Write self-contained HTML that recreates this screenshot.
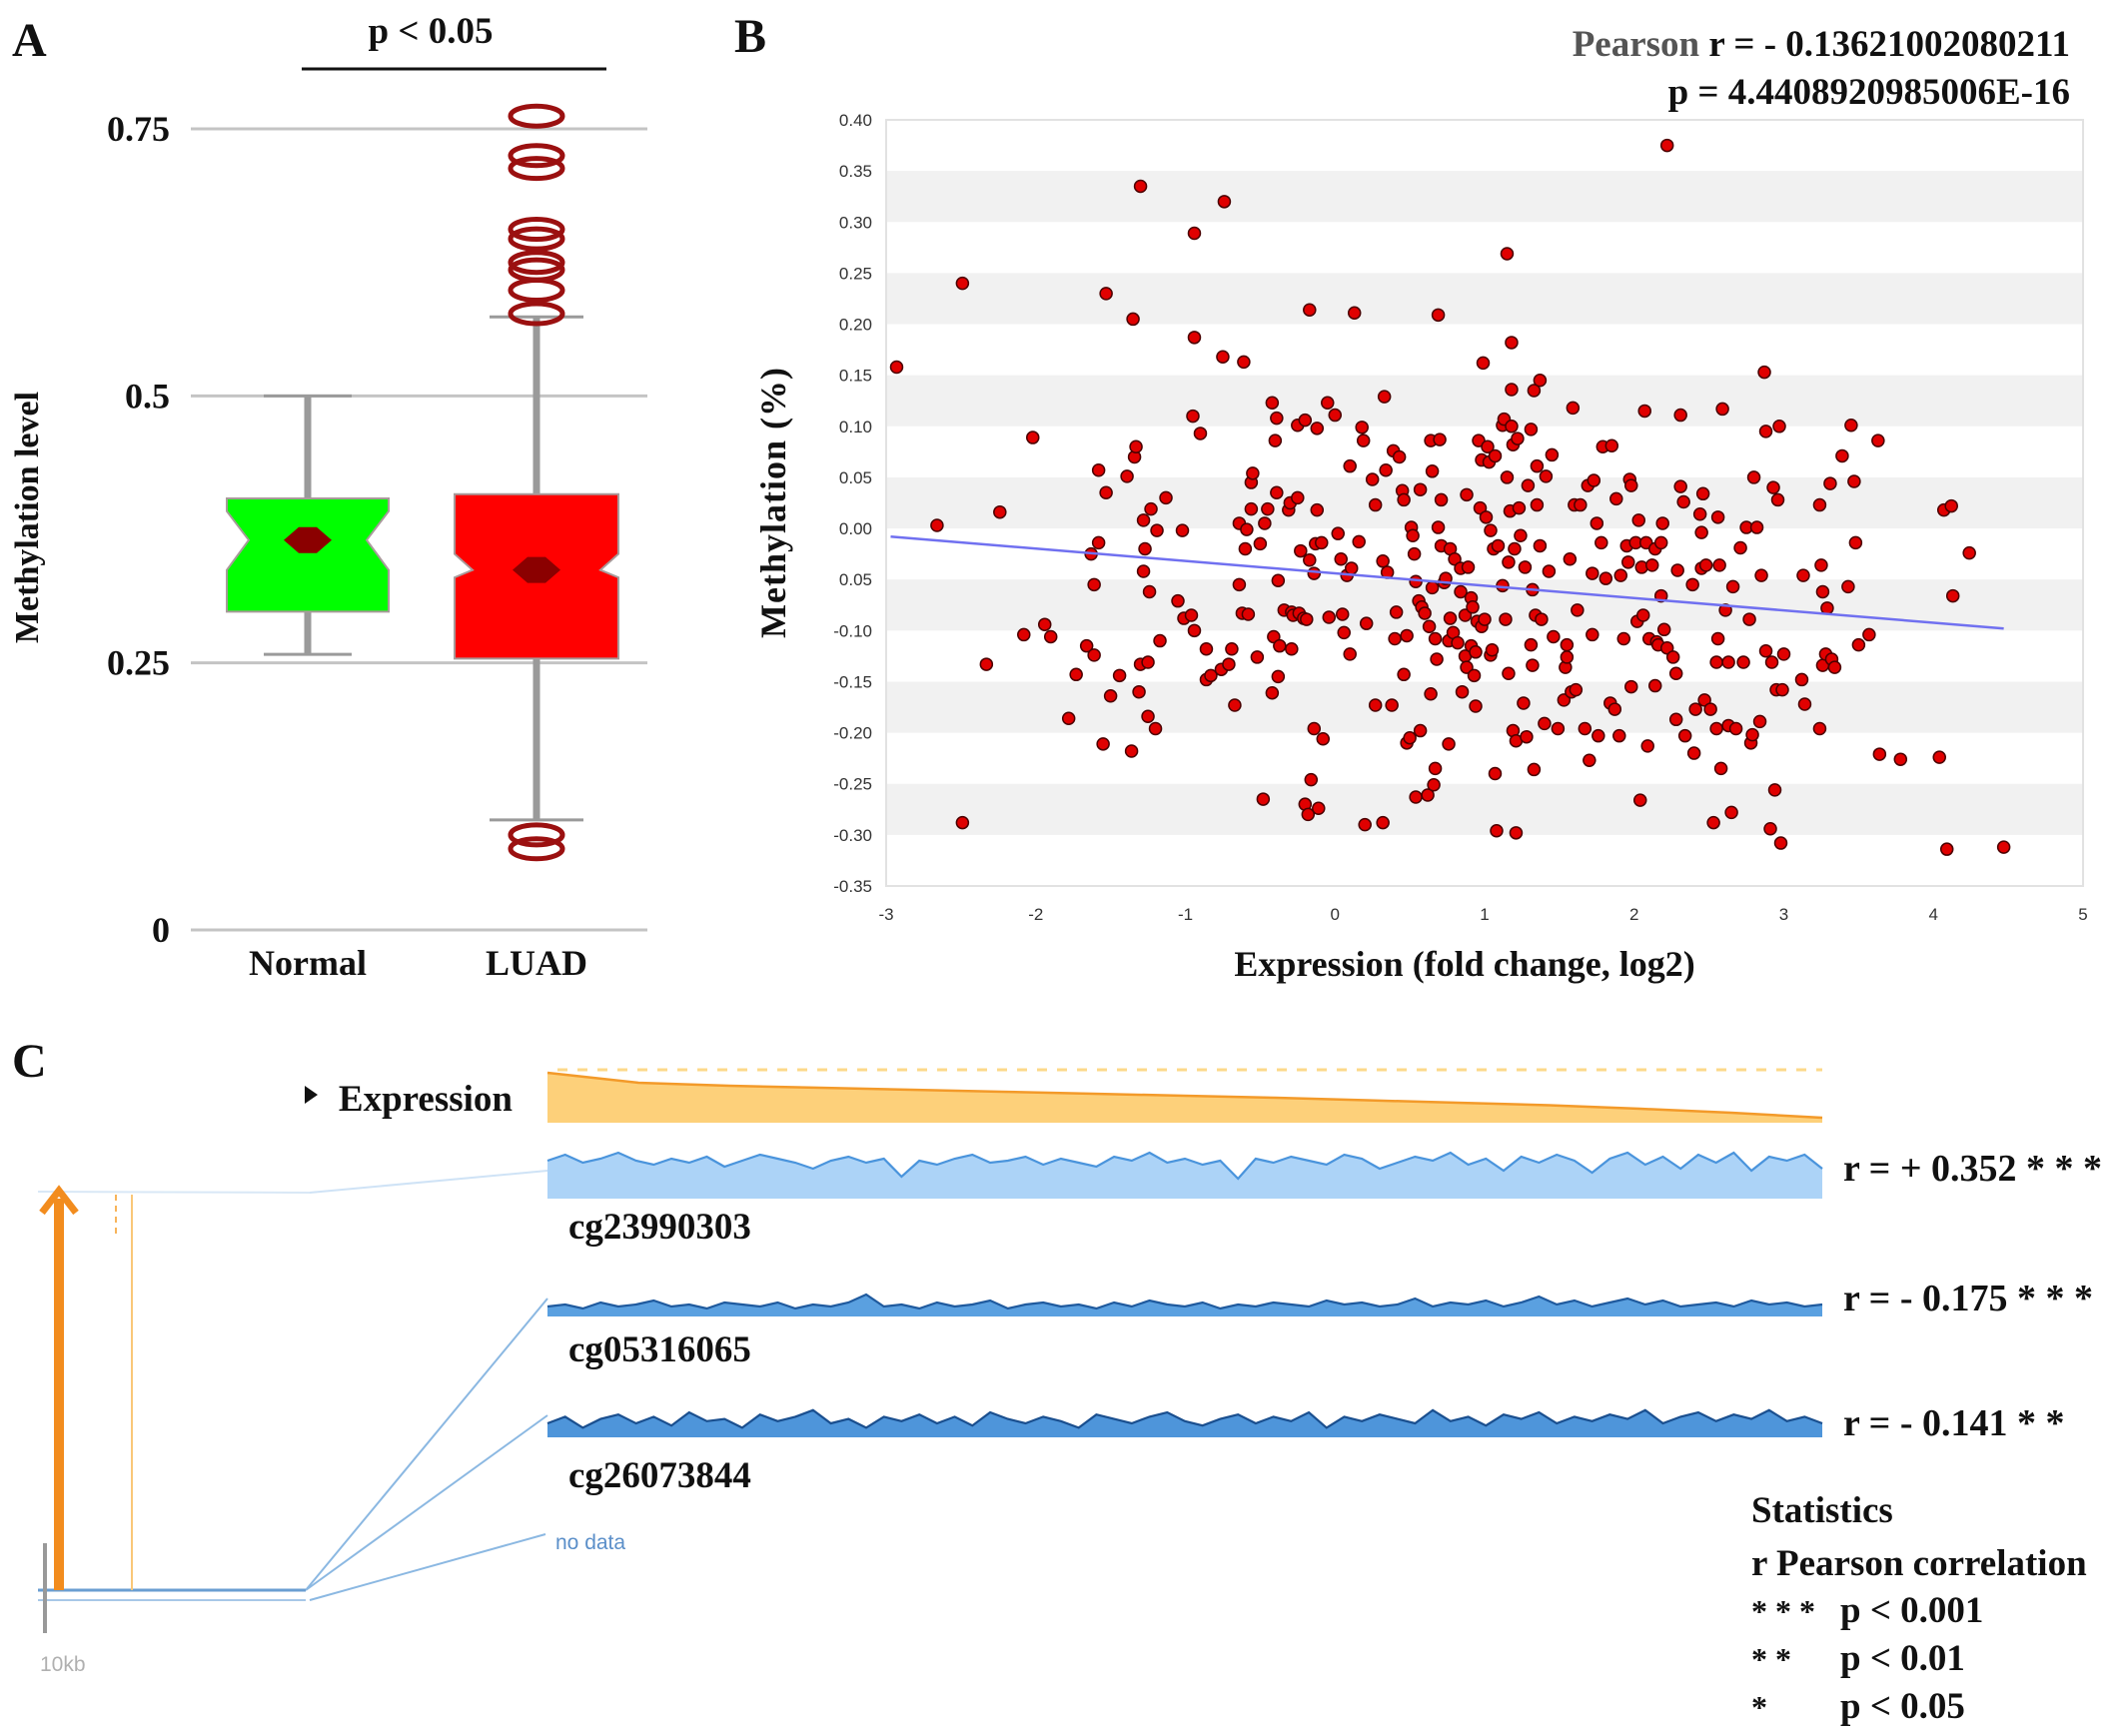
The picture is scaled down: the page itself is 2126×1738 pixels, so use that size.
<!DOCTYPE html>
<html><head><meta charset="utf-8">
<style>
html,body{margin:0;padding:0;background:#fff;}
svg{display:block;}
.serif{font-family:"Liberation Serif",serif;font-weight:bold;fill:#111;}
.sans{font-family:"Liberation Sans",sans-serif;}
</style></head>
<body>
<svg id="fig" width="2126" height="1738" viewBox="0 0 2126 1738" xmlns="http://www.w3.org/2000/svg">
  <g id="panelA"></g>
  <g id="panelB"></g>
  <g id="panelC"></g>
</svg>
<script>
// ===== Panel A data =====
const boxCategories = ["Normal", "LUAD"];
const boxQ1 = [0.298, 0.254];
const boxQ3 = [0.404, 0.408];
const boxMedian = [0.365, 0.337];
const boxNotchLo = [0.337, 0.330];
const boxNotchHi = [0.392, 0.352];
const boxWhiskerLo = [0.258, 0.103];
const boxWhiskerHi = [0.500, 0.574];
const luadOutliers = [0.762, 0.725, 0.713, 0.656, 0.647, 0.625, 0.618, 0.599, 0.577, 0.089, 0.076];
const aTicks = [0, 0.25, 0.5, 0.75];
const aTickLabels = ["0", "0.25", "0.5", "0.75"];

// ===== Panel B data =====
const expr = [-2.93,-2.66,-2.49,-2.49,-2.33,-2.24,-2.08,-2.02,-1.94,-1.90,-1.78,-1.73,-1.66,-1.63,-1.61,-1.61,-1.58,-1.58,-1.55,-1.53,-1.53,-1.50,-1.44,-1.39,-1.36,-1.35,-1.34,-1.33,-1.30,-1.31,-1.30,-1.28,-1.28,-1.27,-1.25,-1.25,-1.24,-1.23,-1.20,-1.19,-1.17,-1.13,-1.05,-1.02,-1.01,-0.96,-0.95,-0.94,-0.94,-0.94,-0.90,-0.86,-0.86,-0.83,-0.76,-0.75,-0.74,-0.71,-0.69,-0.67,-0.64,-0.64,-0.62,-0.61,-0.60,-0.59,-0.58,-0.56,-0.56,-0.55,-0.52,-0.50,-0.48,-0.47,-0.45,-0.42,-0.42,-0.41,-0.40,-0.39,-0.39,-0.38,-0.38,-0.37,-0.34,-0.31,-0.30,-0.29,-0.29,-0.28,-0.25,-0.25,-0.24,-0.23,-0.21,-0.20,-0.20,-0.19,-0.18,-0.17,-0.17,-0.16,-0.14,-0.14,-0.13,-0.12,-0.12,-0.11,-0.09,-0.08,-0.05,-0.04,0.00,0.02,0.04,0.05,0.06,0.08,0.10,0.10,0.11,0.13,0.16,0.18,0.19,0.20,0.21,0.25,0.27,0.27,0.32,0.32,0.33,0.34,0.35,0.38,0.39,0.40,0.41,0.43,0.45,0.46,0.46,0.48,0.48,0.50,0.51,0.52,0.53,0.54,0.54,0.56,0.57,0.57,0.58,0.60,0.62,0.63,0.64,0.64,0.65,0.65,0.66,0.67,0.67,0.68,0.69,0.69,0.70,0.71,0.71,0.73,0.74,0.76,0.76,0.77,0.77,0.79,0.80,0.82,0.84,0.84,0.85,0.87,0.87,0.88,0.88,0.89,0.91,0.91,0.92,0.93,0.94,0.94,0.95,0.96,0.97,0.98,0.98,0.99,1.00,1.01,1.02,1.03,1.04,1.04,1.05,1.06,1.07,1.07,1.08,1.09,1.12,1.12,1.13,1.14,1.15,1.15,1.16,1.16,1.17,1.18,1.18,1.18,1.19,1.19,1.20,1.21,1.21,1.22,1.23,1.24,1.26,1.27,1.28,1.29,1.31,1.31,1.32,1.32,1.33,1.33,1.34,1.35,1.35,1.37,1.37,1.38,1.40,1.41,1.43,1.45,1.46,1.49,1.53,1.54,1.55,1.55,1.57,1.58,1.59,1.60,1.61,1.62,1.64,1.67,1.69,1.70,1.72,1.72,1.73,1.75,1.76,1.78,1.79,1.81,1.84,1.85,1.87,1.88,1.90,1.91,1.93,1.95,1.96,1.97,1.98,1.98,2.01,2.02,2.03,2.04,2.05,2.06,2.07,2.08,2.09,2.10,2.12,2.14,2.14,2.15,2.16,2.18,2.18,2.19,2.20,2.22,2.22,2.26,2.28,2.28,2.29,2.31,2.31,2.33,2.34,2.39,2.40,2.41,2.44,2.45,2.45,2.46,2.47,2.48,2.51,2.53,2.55,2.55,2.56,2.56,2.57,2.58,2.59,2.61,2.63,2.63,2.65,2.66,2.68,2.71,2.73,2.75,2.77,2.78,2.79,2.80,2.82,2.84,2.85,2.87,2.88,2.88,2.91,2.92,2.93,2.94,2.95,2.96,2.97,2.98,2.99,3.00,3.12,3.13,3.14,3.24,3.24,3.25,3.26,3.26,3.28,3.29,3.31,3.32,3.34,3.39,3.43,3.45,3.47,3.48,3.50,3.57,3.63,3.64,3.78,4.04,4.07,4.09,4.12,4.13,4.24,4.47];
const meth = [0.158,0.003,0.240,-0.288,-0.133,0.016,-0.104,0.089,-0.094,-0.106,-0.186,-0.143,-0.115,-0.025,-0.124,-0.055,-0.014,0.057,-0.211,0.230,0.035,-0.164,-0.144,0.051,-0.218,0.205,0.070,0.080,0.335,-0.160,-0.133,-0.042,0.008,-0.020,-0.184,-0.131,-0.062,0.019,-0.196,-0.002,-0.110,0.030,-0.071,-0.002,-0.088,-0.085,0.110,0.289,0.187,-0.100,0.093,-0.118,-0.148,-0.144,-0.138,0.168,0.320,-0.133,-0.118,-0.173,-0.055,0.005,-0.083,0.163,-0.020,-0.001,-0.084,0.019,0.045,0.054,-0.126,-0.015,-0.265,0.005,0.019,-0.161,0.123,-0.106,0.086,0.035,0.108,-0.051,-0.145,-0.115,-0.080,0.018,0.025,-0.082,-0.118,-0.085,0.030,0.101,-0.083,-0.022,-0.088,0.106,-0.270,-0.089,-0.280,0.214,-0.031,-0.246,-0.196,-0.044,-0.015,0.018,0.098,-0.274,-0.014,-0.206,0.123,-0.087,0.111,-0.005,-0.030,-0.084,-0.102,-0.046,-0.123,0.061,-0.039,0.211,-0.013,0.099,0.086,-0.290,-0.093,0.048,0.023,-0.173,-0.032,-0.288,0.129,0.057,-0.043,-0.173,0.076,-0.108,-0.082,0.070,0.037,-0.143,0.028,-0.210,-0.105,-0.205,0.001,-0.007,-0.025,-0.263,-0.052,-0.071,-0.198,0.038,-0.077,-0.083,-0.261,-0.096,0.086,-0.162,-0.058,0.056,-0.251,-0.108,-0.235,-0.128,0.001,0.209,0.087,0.028,-0.017,-0.053,-0.049,-0.110,-0.211,-0.020,-0.088,-0.102,-0.030,-0.112,-0.039,-0.062,-0.160,-0.085,-0.125,0.033,-0.136,-0.038,-0.068,-0.115,-0.077,-0.144,-0.174,-0.121,-0.091,0.086,0.020,0.067,-0.096,0.162,-0.089,0.011,0.080,0.065,-0.002,-0.124,-0.119,-0.020,-0.240,0.071,-0.296,-0.017,0.101,-0.056,0.107,-0.089,0.269,0.050,-0.033,-0.142,0.017,0.182,0.136,0.100,-0.198,0.082,-0.020,-0.208,-0.298,0.088,0.020,-0.007,-0.171,-0.038,-0.204,0.042,-0.114,0.097,-0.060,-0.134,-0.236,0.135,-0.085,0.023,0.061,-0.017,0.145,-0.089,-0.191,0.051,-0.042,0.072,-0.106,-0.196,-0.168,-0.136,-0.126,-0.114,-0.030,-0.160,0.118,0.023,-0.158,-0.080,0.023,-0.196,0.042,-0.227,-0.044,-0.104,0.047,0.005,-0.203,-0.014,0.080,-0.049,-0.171,0.081,-0.177,0.029,-0.203,-0.046,-0.108,-0.017,-0.033,0.048,-0.155,0.042,-0.014,-0.091,0.008,-0.266,-0.038,-0.085,0.115,-0.014,-0.213,-0.108,-0.036,-0.020,-0.154,-0.111,-0.114,-0.066,-0.014,0.005,-0.099,0.375,-0.117,-0.126,-0.187,-0.142,-0.041,0.041,0.111,0.026,-0.203,-0.055,-0.220,-0.177,0.014,-0.004,-0.039,0.034,-0.168,-0.036,-0.177,-0.288,-0.196,-0.131,0.011,-0.108,-0.036,-0.235,0.117,-0.080,-0.193,-0.131,-0.278,-0.057,-0.196,-0.019,-0.131,0.001,-0.089,-0.210,-0.202,0.050,0.001,-0.189,-0.046,0.153,-0.120,0.095,-0.294,-0.131,0.040,-0.256,-0.158,0.028,0.100,-0.308,-0.158,-0.123,-0.148,-0.046,-0.172,-0.196,0.023,-0.036,-0.062,-0.134,-0.123,-0.078,0.044,-0.128,-0.136,0.071,-0.057,0.101,0.046,-0.014,-0.114,-0.104,0.086,-0.221,-0.226,-0.224,0.018,-0.314,0.022,-0.066,-0.024,-0.312];
const fitX = [-2.97, 4.47];
const fitY = [-0.008, -0.098];
const bYTicks = [0.40,0.35,0.30,0.25,0.20,0.15,0.10,0.05,0.00,-0.05,-0.10,-0.15,-0.20,-0.25,-0.30,-0.35];
const bYTickLabels = ["0.40","0.35","0.30","0.25","0.20","0.15","0.10","0.05","0.00","0.05","-0.10","-0.15","-0.20","-0.25","-0.30","-0.35"];
const bXTicks = [-3,-2,-1,0,1,2,3,4,5];
const bXTickLabels = ["-3","-2","-1","0","1","2","3","4","5"];

// ===== Panel C data =====
const exprTrack = [1.00,0.80,0.74,0.70,0.66,0.62,0.58,0.54,0.50,0.45,0.40,0.35,0.28,0.20,0.10];
const track1 = [2,5,1,3,6,2,0,3,1,4,-1,2,5,3,1,-2,2,4,1,3,-6,2,0,3,5,1,2,4,0,3,1,-1,4,2,6,1,3,0,2,-7,3,1,4,2,0,5,3,-2,1,4,2,6,0,3,-3,4,1,5,2,-4,3,6,0,4,-2,5,1,6,-3,4,2,5,-2];
const track2 = [0,1,-1,2,0,1,3,0,1,-1,2,1,0,2,-1,1,0,2,6,0,1,-1,2,0,1,3,-1,1,2,0,1,-1,2,0,3,1,0,2,-1,1,0,2,1,0,3,1,2,0,1,4,0,2,1,3,0,2,5,1,3,0,2,4,1,3,0,1,2,0,3,1,2,0,1];
const track3 = [0,3,-2,2,4,0,3,-1,5,1,2,-2,4,1,3,6,0,2,-2,3,1,4,0,3,-1,5,2,0,3,1,-2,4,2,0,3,5,1,-1,2,4,0,3,1,5,-2,3,1,4,2,0,6,1,3,-1,4,2,5,0,3,1,4,2,6,0,3,5,1,4,2,6,1,3,0];

const NS = "http://www.w3.org/2000/svg";
function mk(parent, tag, attrs, text){
  const e = document.createElementNS(NS, tag);
  for (const k in attrs) e.setAttribute(k, attrs[k]);
  if (text !== undefined) e.textContent = text;
  parent.appendChild(e);
  return e;
}

// ---------------- Panel A ----------------
(function(){
  const g = document.getElementById('panelA');
  const yA = v => 931 - v * 1069.3;
  const cx = [308, 537];
  const halfW = [81, 82];
  const notchIn = [22, 18];
  const capHalf = [44, 47];
  let t = mk(g,'text',{x:12,y:56,class:'serif','font-size':48});
  t.textContent='A';
  
  
  t = mk(g,'text',{x:431,y:43,class:'serif','font-size':37,'text-anchor':'middle'},'p < 0.05');
  
  
  let l = mk(g,'line',{x1:302,y1:69,x2:607,y2:69,stroke:'#111','stroke-width':3});
  
  
  aTicks.forEach((v,i)=>{
    const gl = mk(g,'line',{x1:191,x2:648,y1:yA(v),y2:yA(v),stroke:'#c4c4c4','stroke-width':3});
    
    
    const tl = mk(g,'text',{x:170,y:yA(v)+12,class:'serif','font-size':36,'text-anchor':'end'},aTickLabels[i]);
    
    
  });
  t = mk(g,'text',{x:0,y:0,class:'serif','font-size':34,'text-anchor':'middle',transform:'translate(38,518) rotate(-90)'},'Methylation level');
  
  
  const fills = ['#00ff00','#ff0000'];
  boxCategories.forEach((c,i)=>{
    const x = cx[i], w = halfW[i], n = notchIn[i];
    const wl = mk(g,'line',{x1:x,x2:x,y1:yA(boxWhiskerHi[i]),y2:yA(boxWhiskerLo[i]),stroke:'#9a9a9a','stroke-width':7});
    
    
    [boxWhiskerHi[i], boxWhiskerLo[i]].forEach(v=>{
      const cap = mk(g,'line',{x1:x-capHalf[i],x2:x+capHalf[i],y1:yA(v),y2:yA(v),stroke:'#9a9a9a','stroke-width':3});
      
      
    });
    const pts = [
      [x-w,yA(boxQ3[i])],[x+w,yA(boxQ3[i])],[x+w,yA(boxNotchHi[i])],[x+w-n,yA(boxMedian[i])],
      [x+w,yA(boxNotchLo[i])],[x+w,yA(boxQ1[i])],[x-w,yA(boxQ1[i])],[x-w,yA(boxNotchLo[i])],
      [x-w+n,yA(boxMedian[i])],[x-w,yA(boxNotchHi[i])]
    ].map(p=>p.join(',')).join(' ');
    const box = mk(g,'polygon',{points:pts,fill:fills[i],stroke:'#a89a9a','stroke-width':2});
    
    
    const my = yA(boxMedian[i]);
    const md = mk(g,'polygon',{points:`${x-24},${my} ${x-9},${my-13} ${x+9},${my-13} ${x+24},${my} ${x+9},${my+13} ${x-9},${my+13}`,fill:'#8b0000'});
    
    
    const cl = mk(g,'text',{x:x,y:976,class:'serif','font-size':36,'text-anchor':'middle'},c);
    
    
  });
  luadOutliers.forEach(v=>{
    const o = mk(g,'ellipse',{cx:cx[1],cy:yA(v),rx:26,ry:10,fill:'none',stroke:'#9b1010','stroke-width':5});
    
    
  });
})();

// ---------------- Panel B ----------------
(function(){
  const g = document.getElementById('panelB');
  const X0=887, X1=2085, Y0=120, Y1=887;
  const xB = v => X0 + (v + 3) * (X1 - X0) / 8;
  const yB = v => Y0 + (0.40 - v) * (Y1 - Y0) / 0.75;
  let t = mk(g,'text',{x:735,y:52,class:'serif','font-size':48},'B');
  
  
  t = mk(g,'text',{x:2072,y:56,class:'serif','font-size':37,'text-anchor':'end'});
  t.innerHTML = '<tspan fill="#555">Pearson</tspan> r = - 0.13621002080211';
  
  
  t = mk(g,'text',{x:2072,y:104,class:'serif','font-size':37,'text-anchor':'end'},'p = 4.4408920985006E-16');
  
  
  for (let i=0;i<bYTicks.length-1;i++){
    if (i%2===1){
      const r = mk(g,'rect',{x:X0,y:yB(bYTicks[i]),width:X1-X0,height:yB(bYTicks[i+1])-yB(bYTicks[i]),fill:'#f1f1f1'});
      
      
    }
  }
  const fr = mk(g,'rect',{x:X0,y:Y0,width:X1-X0,height:Y1-Y0,fill:'none',stroke:'#e2e2e2','stroke-width':2});
  
  
  bYTicks.forEach((v,i)=>{
    const tl = mk(g,'text',{x:X0-14,y:yB(v)+6,class:'sans','font-size':17,fill:'#333','text-anchor':'end'},bYTickLabels[i]);
    
    
  });
  bXTicks.forEach((v,i)=>{
    const tl = mk(g,'text',{x:xB(v),y:921,class:'sans','font-size':17,fill:'#333','text-anchor':'middle'},bXTickLabels[i]);
    
    
  });
  t = mk(g,'text',{x:1466,y:977,class:'serif','font-size':36,'text-anchor':'middle'},'Expression (fold change, log2)');
  
  
  t = mk(g,'text',{x:0,y:0,class:'serif','font-size':36,'text-anchor':'middle','letter-spacing':1,transform:'translate(786,503) rotate(-90)'},'Methylation (%)');
  
  
  expr.forEach((v,i)=>{
    const c = mk(g,'circle',{cx:xB(v),cy:yB(meth[i]),r:6,fill:'#e00000',stroke:'#4a0000','stroke-width':1.5});
    
    
  });
  const fl = mk(g,'line',{x1:xB(fitX[0]),y1:yB(fitY[0]),x2:xB(fitX[1]),y2:yB(fitY[1]),stroke:'#7070f0','stroke-width':2.5});
  
  
})();

// ---------------- Panel C ----------------
(function(){
  const g = document.getElementById('panelC');
  const TX0 = 548, TX1 = 1824;
  let t = mk(g,'text',{x:12,y:1078,class:'serif','font-size':48},'C');
  
  
  const eTop = 1074, eBot = 1124, eH = 50;
  let d = `M${TX0},${eBot} L${TX0},${eTop} `;
  exprTrack.forEach((v,i)=>{
    const x = TX0 + i*(TX1-TX0)/(exprTrack.length-1);
    d += `L${x.toFixed(1)},${(eBot - v*eH).toFixed(1)} `;
  });
  d += `L${TX1},${eBot} Z`;
  const ea = mk(g,'path',{d:d,fill:'#fdd07a',stroke:'none'});
  
  
  let ed = `M${TX0},${eTop} `;
  exprTrack.forEach((v,i)=>{
    const x = TX0 + i*(TX1-TX0)/(exprTrack.length-1);
    ed += `L${x.toFixed(1)},${(eBot - v*eH).toFixed(1)} `;
  });
  const el = mk(g,'path',{d:ed,fill:'none',stroke:'#f39a2a','stroke-width':2.5});
  
  
  const dl = mk(g,'line',{x1:TX0+10,x2:TX1,y1:1071,y2:1071,stroke:'#fcd98a','stroke-width':3,'stroke-dasharray':'10,10'});
  
  
  t = mk(g,'text',{x:513,y:1112,class:'serif','font-size':37,'text-anchor':'end'},'Expression');
  
  
  const tri = mk(g,'polygon',{points:'305,1087 305,1105 318,1096',fill:'#111'});
  
  

  const tracks = [
    {vals:track1, base:1166, amp:2.0, bot:1200, fill:'#acd3f7', line:'#4a94dc', name:'cg23990303', r:'r = + 0.352 * * *', ly:1240, ry:1182, src:[310,1194]},
    {vals:track2, base:1308, amp:2.0, bot:1318, fill:'#5aa0e0', line:'#1f5a9e', name:'cg05316065', r:'r = - 0.175 * * *', ly:1363, ry:1312, src:[306,1592]},
    {vals:track3, base:1425, amp:2.2, bot:1439, fill:'#4e95da', line:'#1a4f8f', name:'cg26073844', r:'r = - 0.141 * *', ly:1489, ry:1437, src:[306,1592]}
  ];
  tracks.forEach((tr,k)=>{
    const n = tr.vals.length;
    let p = `M${TX0},${tr.bot} `;
    let pl = '';
    tr.vals.forEach((v,i)=>{
      const x = TX0 + i*(TX1-TX0)/(n-1);
      const y = tr.base - v*tr.amp;
      p += `L${x.toFixed(1)},${y.toFixed(1)} `;
      pl += (i?'L':'M')+`${x.toFixed(1)},${y.toFixed(1)} `;
    });
    p += `L${TX1},${tr.bot} Z`;
    const a = mk(g,'path',{d:p,fill:tr.fill});
    
    
    const ln = mk(g,'path',{d:pl,fill:'none',stroke:tr.line,'stroke-width':2.2});
    
    
    const lab = mk(g,'text',{x:569,y:tr.ly,class:'serif','font-size':37},tr.name);
    
    
    const rl = mk(g,'text',{x:1845,y:tr.ry,class:'serif','font-size':38},tr.r);
    
    
    const cn = mk(g,'line',{x1:tr.src[0],y1:tr.src[1],x2:TX0,y2:k===0?1172:tr.base-8,stroke:k===0?'#cfe3f6':'#8bb8e2','stroke-width':2});
    
    
  });
  let c = mk(g,'line',{x1:310,y1:1602,x2:546,y2:1536,stroke:'#8bb8e2','stroke-width':2});
  
  
  t = mk(g,'text',{x:556,y:1551,class:'sans','font-size':21,fill:'#5b8fc9'},'no data');
  
  
  c = mk(g,'line',{x1:38,y1:1193,x2:310,y2:1194,stroke:'#d9e8f6','stroke-width':2});
  
  
  c = mk(g,'line',{x1:38,y1:1592,x2:306,y2:1592,stroke:'#6a9ed2','stroke-width':3});
  
  
  c = mk(g,'line',{x1:38,y1:1602,x2:306,y2:1602,stroke:'#a8c8e8','stroke-width':2});
  
  
  c = mk(g,'line',{x1:45,y1:1545,x2:45,y2:1635,stroke:'#999','stroke-width':4});
  
  
  t = mk(g,'text',{x:40,y:1673,class:'sans','font-size':21,fill:'#b0b0b0'},'10kb');
  
  
  c = mk(g,'line',{x1:59,y1:1592,x2:59,y2:1200,stroke:'#f28c1e','stroke-width':10});
  
  
  c = mk(g,'polyline',{points:'42,1214 59,1192 76,1214',fill:'none',stroke:'#f28c1e','stroke-width':7});
  
  
  c = mk(g,'line',{x1:116,y1:1196,x2:116,y2:1240,stroke:'#f7b45a','stroke-width':2,'stroke-dasharray':'6,5'});
  
  
  c = mk(g,'line',{x1:132,y1:1196,x2:132,y2:1592,stroke:'#f9c778','stroke-width':2});
  
  
  const statsY = [1524,1577,1624,1672,1720];
  const st1 = mk(g,'text',{x:1753,y:statsY[0],class:'serif','font-size':37},'Statistics');
  
  
  const st2 = mk(g,'text',{x:1753,y:statsY[1],class:'serif','font-size':37},'r Pearson correlation');
  
  
  const stars = ['* * *','* *','*'];
  const thr = ['p < 0.001','p < 0.01','p < 0.05'];
  stars.forEach((s,i)=>{
    const a = mk(g,'text',{x:1753,y:statsY[i+2],class:'serif','font-size':32},s);
    
    
    const b = mk(g,'text',{x:1842,y:statsY[i+2],class:'serif','font-size':37},thr[i]);
    
    
  });
})();
</script>
</body></html>
